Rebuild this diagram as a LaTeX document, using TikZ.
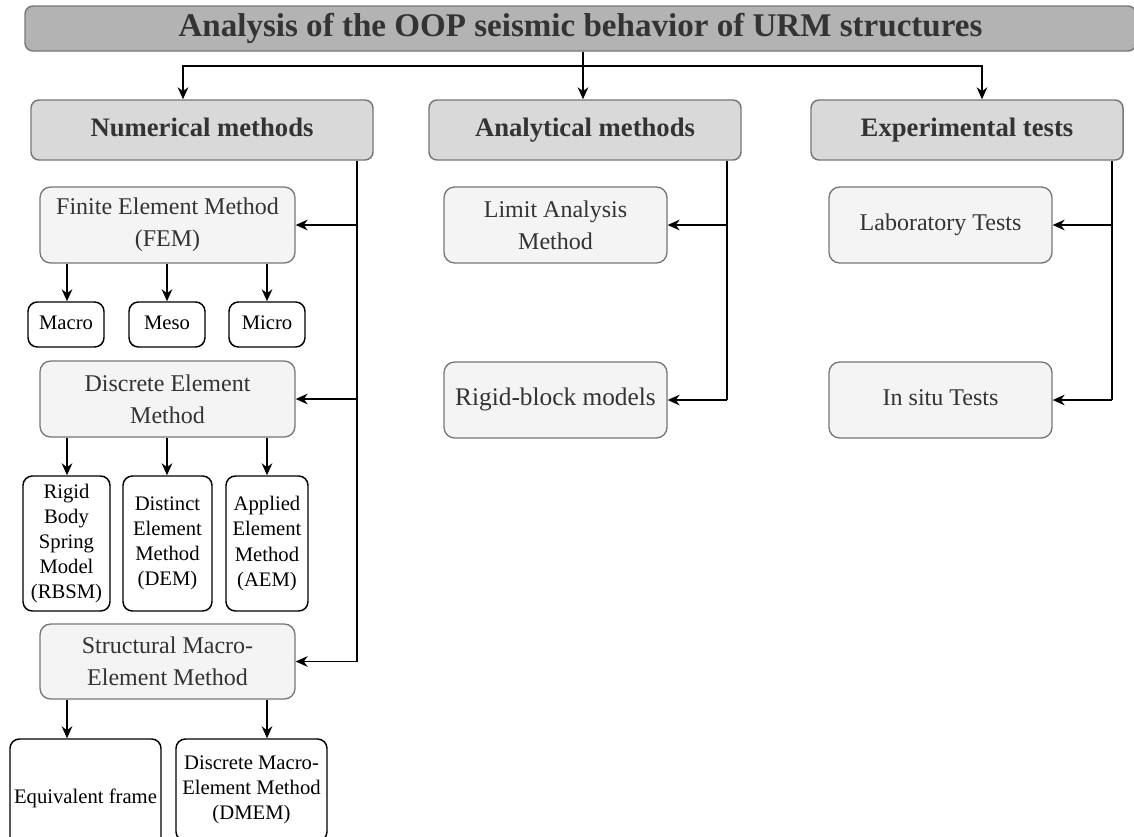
\documentclass[tikz,border=0pt]{standalone}
\usepackage{fontspec}
\setmainfont{Liberation Serif}
\usetikzlibrary{arrows.meta,calc}
\definecolor{txt}{HTML}{333333}
\definecolor{titlefill}{HTML}{B3B3B3}
\definecolor{catfill}{HTML}{D9D9D9}
\definecolor{subfill}{HTML}{F4F4F4}
\definecolor{bordergray}{HTML}{777777}
\tikzset{
  wh/.style 2 args={minimum width=#1*0.75pt, minimum height=#2*0.75pt},
  titlebox/.style={draw=bordergray, line width=1.1pt, fill=titlefill, rounded corners=6pt, inner sep=0pt, text=txt, text height=17.5pt, text depth=5pt, font=\fontsize{24.8}{28}\selectfont\bfseries},
  catbox/.style={draw=bordergray, line width=1.1pt, fill=catfill, rounded corners=6pt, inner sep=0pt, text=txt, text height=14pt, text depth=4.4pt, font=\fontsize{20}{24}\selectfont\bfseries},
  subbox/.style={draw=bordergray, line width=1pt, fill=subfill, rounded corners=8pt, inner sep=0pt, align=center, text=txt, font=\fontsize{18}{24}\selectfont},
  oneline/.style={text height=12.8pt, text depth=4pt},
  leafbox/.style={draw=black, line width=1.1pt, fill=white, rounded corners=7pt, inner sep=0pt, align=center, text=black, font=\fontsize{15.5}{18.8}\selectfont},
  leafone/.style={text height=11pt, text depth=3.4pt},
  conn/.style={draw=black, line width=1.2pt},
  arr/.style={conn, -{Stealth[length=9pt,width=8pt]}}
}
\begin{document}
\begin{tikzpicture}[x=0.75pt,y=-0.75pt]
\clip (0,0) rectangle (1134,836);
\fill[white] (0,0) rectangle (1134,836);
% title
\node[titlebox, wh={1111}{45}] (title) at (580.5,28.5) {Analysis of the OOP seismic behavior of URM structures};
% categories
\node[catbox, wh={342}{60}] (num) at (202,130) {Numerical methods};
\node[catbox, wh={312}{60}] (ana) at (585,130) {Analytical methods};
\node[catbox, wh={312}{60}] (exp) at (967,130) {Experimental tests};
% numerical
\node[subbox, wh={255}{76}] (fem) at (167.5,225) {Finite Element Method\\(FEM)};
\node[leafbox, leafone, wh={76}{45}] (macro) at (66,324.5) {Macro};
\node[leafbox, leafone, wh={76}{45}] (meso) at (167,324.5) {Meso};
\node[leafbox, leafone, wh={76}{45}] (micro) at (267,324.5) {Micro};
\node[subbox, wh={255}{76}] (dem) at (167.5,399) {Discrete Element\\Method};
\node[leafbox, wh={87}{135}] (rbsm) at (66.5,543.5) {Rigid\\Body\\Spring\\Model\\(RBSM)};
\node[leafbox, wh={89}{135}] (dist) at (167.5,543.5) {Distinct\\Element\\Method\\(DEM)};
\node[leafbox, wh={82}{135}] (aem) at (267,543.5) {Applied\\Element\\Method\\(AEM)};
\node[subbox, wh={255}{75}] (smem) at (167.5,661.5) {Structural Macro-\\Element Method};
\node[leafbox, leafone, wh={151}{118}] (eqf) at (85.5,798) {Equivalent frame};
\node[leafbox, wh={151}{102}] (dmem) at (251.5,790) {Discrete Macro-\\Element Method\\(DMEM)};
% analytical
\node[subbox, wh={223}{76}] (lim) at (555.5,225) {Limit Analysis\\Method};
\node[subbox, oneline, wh={223}{76}, font=\fontsize{19}{24}\selectfont] (rig) at (555.5,400) {Rigid-block models};
% experimental
\node[subbox, oneline, wh={223}{76}] (lab) at (940.5,225) {Laboratory Tests};
\node[subbox, oneline, wh={223}{76}] (situ) at (940.5,400) {In situ Tests};
% helper coordinates
\coordinate (j) at (583,66);
\coordinate (xa) at (183,0);
\coordinate (xc) at (982,0);
\coordinate (nx) at (357,0);
\coordinate (ax) at (727,0);
\coordinate (ex) at (1112,0);
\coordinate (c1) at (67,0);
\coordinate (c2) at (167,0);
\coordinate (c3) at (267,0);
% top connectors
\draw[conn] (title.south -| j) -- (j);
\draw[arr] (j) -| (num.north -| xa);
\draw[arr] (j) -- (ana.north -| j);
\draw[arr] (j) -| (exp.north -| xc);
% numerical trunk
\draw[conn] (num.south -| nx) -- (nx |- smem.east);
\draw[arr] (nx |- fem.east) -- (fem.east);
\draw[arr] (nx |- dem.east) -- (dem.east);
\draw[arr] (nx |- smem.east) -- (smem.east);
% FEM children
\draw[arr] (fem.south -| c1) -- (macro.north -| c1);
\draw[arr] (fem.south -| c2) -- (meso.north -| c2);
\draw[arr] (fem.south -| c3) -- (micro.north -| c3);
% DEM children
\draw[arr] (dem.south -| c1) -- (rbsm.north -| c1);
\draw[arr] (dem.south -| c2) -- (dist.north -| c2);
\draw[arr] (dem.south -| c3) -- (aem.north -| c3);
% SMEM children
\draw[arr] (smem.south -| c1) -- (eqf.north -| c1);
\draw[arr] (smem.south -| c3) -- (dmem.north -| c3);
% analytical trunk
\draw[conn] (ana.south -| ax) -- (ax |- rig.east);
\draw[arr] (ax |- lim.east) -- (lim.east);
\draw[arr] (ax |- rig.east) -- (rig.east);
% experimental trunk
\draw[conn] (exp.south -| ex) -- (ex |- situ.east);
\draw[arr] (ex |- lab.east) -- (lab.east);
\draw[arr] (ex |- situ.east) -- (situ.east);
\end{tikzpicture}
\end{document}
